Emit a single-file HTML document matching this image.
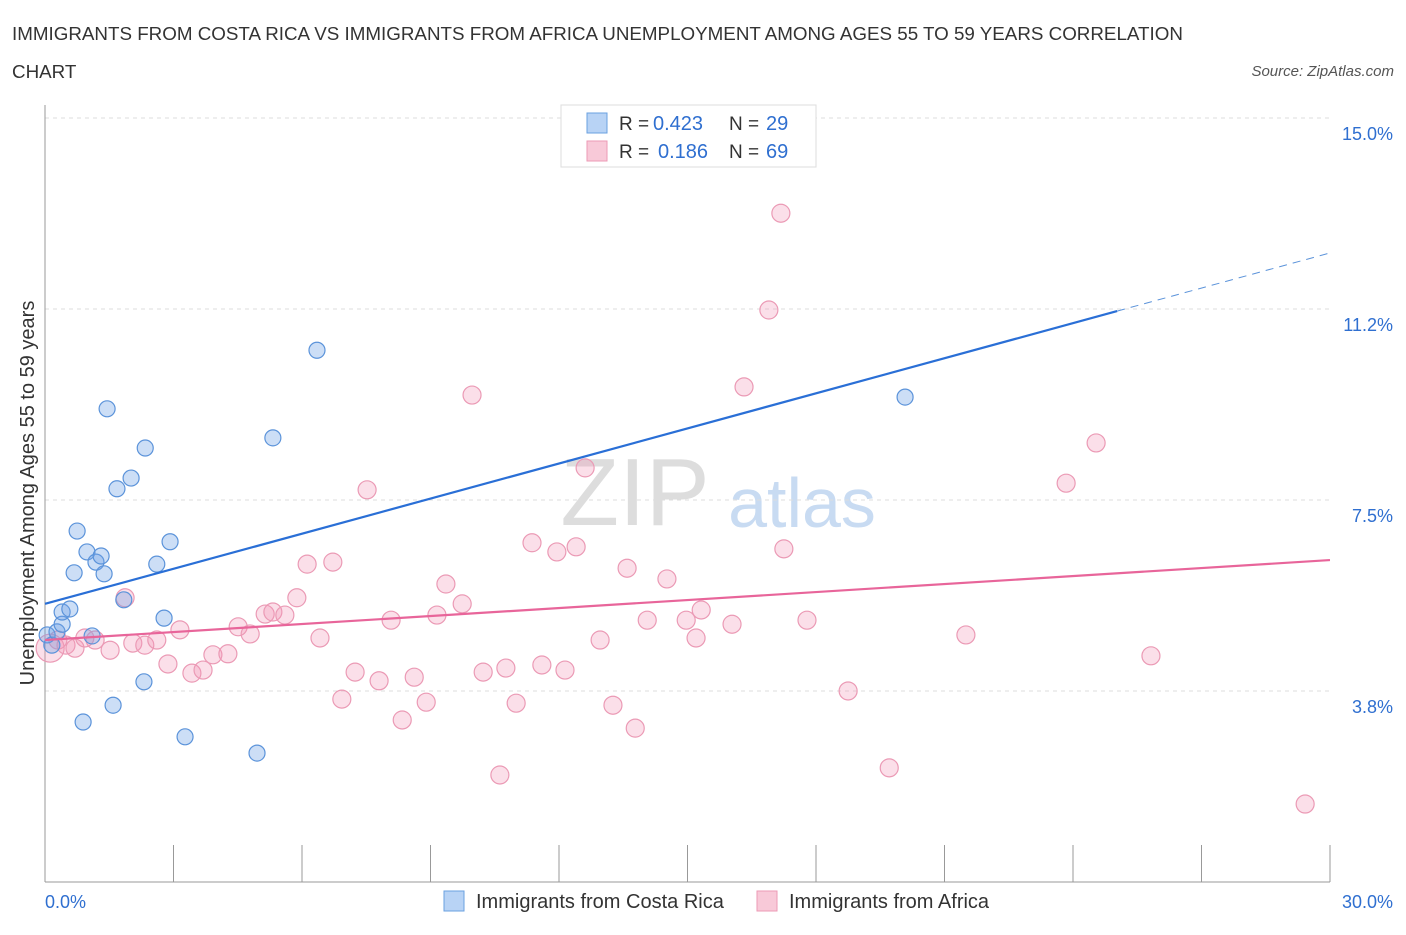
<!DOCTYPE html>
<html><head><meta charset="utf-8"><style>
body{margin:0;background:#fff;font-family:"Liberation Sans",sans-serif;}
svg text{font-family:"Liberation Sans",sans-serif;}
</style></head><body>
<svg id="chart" width="1406" height="930" xmlns="http://www.w3.org/2000/svg">
<text x="12" y="40" font-size="18.8" fill="#333">IMMIGRANTS FROM COSTA RICA VS IMMIGRANTS FROM AFRICA UNEMPLOYMENT AMONG AGES 55 TO 59 YEARS CORRELATION</text>
<text x="12" y="78" font-size="18.8" fill="#333">CHART</text>
<text x="1394" y="76" font-size="15" fill="#555" font-style="italic" text-anchor="end">Source: ZipAtlas.com</text>
<text x="635" y="525" font-size="96" fill="#ddd" font-family="Liberation Serif" text-anchor="middle">ZIP</text>
<text x="802" y="527" font-size="70" fill="#c8dbf2" text-anchor="middle">atlas</text>
<text transform="translate(34,493) rotate(-90)" font-size="20" fill="#333" text-anchor="middle">Unemployment Among Ages 55 to 59 years</text>
<g id="grid"></g><g id="pts"></g><g id="lines"></g>
<g>
<rect x="561" y="105" width="255" height="62" fill="#fff" stroke="#ddd"/>
<rect x="587" y="113" width="20" height="20" fill="#b8d3f5" stroke="#6aa0e0"/>
<rect x="587" y="141" width="20" height="20" fill="#f8c9d8" stroke="#ec9ab6"/>
<text x="619" y="130" font-size="19" fill="#333">R =</text>
<text x="653" y="130" font-size="20" fill="#2f6fd0">0.423</text>
<text x="729" y="130" font-size="19" fill="#333">N =</text>
<text x="766" y="130" font-size="20" fill="#2f6fd0">29</text>
<text x="619" y="158" font-size="19" fill="#333">R =</text>
<text x="658" y="158" font-size="20" fill="#2f6fd0">0.186</text>
<text x="729" y="158" font-size="19" fill="#333">N =</text>
<text x="766" y="158" font-size="20" fill="#2f6fd0">69</text>
</g>
<g>
<rect x="444" y="891" width="20" height="20" fill="#b8d3f5" stroke="#6aa0e0"/>
<text x="476" y="908" font-size="20" fill="#333">Immigrants from Costa Rica</text>
<rect x="757" y="891" width="20" height="20" fill="#f8c9d8" stroke="#ec9ab6"/>
<text x="789" y="908" font-size="20" fill="#333">Immigrants from Africa</text>
</g>
<text x="45" y="908" font-size="18" fill="#2f6fd0">0.0%</text>
<text x="1393" y="908" font-size="18" fill="#2f6fd0" text-anchor="end">30.0%</text>
</svg>
<script>
const yTicks=[15.0,11.25,7.5,3.75];
const yTickLabels=["15.0%","11.2%","7.5%","3.8%"];
const blueX=[0.05,0.16,0.28,0.40,0.40,0.58,0.68,0.75,0.89,0.98,1.10,1.19,1.31,1.38,1.45,1.59,1.68,1.84,2.01,2.31,2.34,2.61,2.78,2.92,3.27,4.95,5.32,6.35,20.08];
const blueY=[4.85,4.65,4.91,5.06,5.30,5.36,6.07,6.89,3.14,6.48,4.83,6.28,6.40,6.05,9.29,3.47,7.72,5.54,7.93,3.93,8.52,6.24,5.18,6.68,2.85,2.53,8.72,10.44,9.52];
const pinkX=[0.12,0.30,0.49,0.70,0.93,1.17,1.52,1.87,2.05,2.33,2.61,2.87,3.15,3.43,3.69,3.92,4.27,4.51,4.79,5.14,5.32,5.60,5.88,6.12,6.42,6.72,6.93,7.24,7.52,7.80,8.08,8.34,8.62,8.90,9.15,9.36,9.74,9.97,10.23,10.62,10.76,11.00,11.37,11.60,11.95,12.14,12.40,12.61,12.96,13.26,13.59,13.78,14.06,14.52,14.97,15.20,15.32,16.04,16.32,16.90,17.18,17.25,17.79,18.75,19.71,21.50,23.84,24.54,25.82,29.42];
const pinkY=[4.59,4.75,4.65,4.59,4.79,4.75,4.55,5.58,4.69,4.65,4.75,4.28,4.95,4.10,4.16,4.46,4.48,5.01,4.87,5.26,5.30,5.24,5.58,6.24,4.79,6.28,3.59,4.12,7.70,3.95,5.14,3.18,4.02,3.53,5.24,5.85,5.46,9.56,4.12,2.10,4.20,3.51,6.66,4.26,6.48,4.16,6.58,8.13,4.75,3.47,6.16,3.02,5.14,5.95,5.14,4.79,5.34,5.06,9.72,11.23,13.13,6.54,5.14,3.75,2.24,4.85,7.83,8.62,4.44,1.53];
const blueTrend=[5.46,12.35];
const blueSolidEnd=25.03;
const pinkTrend=[4.75,6.32];
const NS="http://www.w3.org/2000/svg";
const X=v=>45+v*42.833, Y=v=>118+(15-v)*50.93;
function mk(t,a,p){const e=document.createElementNS(NS,t);for(const k in a)e.setAttribute(k,a[k]);p.appendChild(e);return e;}
const grid=document.getElementById('grid');
yTicks.forEach((t,i)=>{
 const l=mk('line',{x1:45,x2:1330,y1:Y(t),y2:Y(t),stroke:'#ddd','stroke-dasharray':'4,4'},grid);
 
 
 const tx=mk('text',{x:1393,y:Y(t)+22,'font-size':18,fill:'#2f6fd0','text-anchor':'end'},grid);
 tx.textContent=yTickLabels[i];
 
 
});
const ax=mk('line',{x1:45,x2:45,y1:105,y2:882,stroke:'#999'},grid);


const bx=mk('line',{x1:45,x2:1330,y1:882,y2:882,stroke:'#999'},grid);


for(let i=0;i<=10;i++){const t=mk('line',{x1:X(i*3),x2:X(i*3),y1:845,y2:882,stroke:'#999'},grid);
 
 }
const pts=document.getElementById('pts');
pinkX.forEach((x,i)=>{const c=mk('circle',{cx:X(x),cy:Y(pinkY[i]),r:i==0?14:9,fill:'rgba(242,150,182,0.3)',stroke:'#eb9ab5','stroke-width':1.2},pts);
 
 });
blueX.forEach((x,i)=>{const c=mk('circle',{cx:X(x),cy:Y(blueY[i]),r:8,fill:'rgba(110,160,228,0.35)',stroke:'#5b93da','stroke-width':1.2},pts);
 
 });
const lines=document.getElementById('lines');
const bAt=v=>blueTrend[0]+(blueTrend[1]-blueTrend[0])*v/30;
const l1=mk('line',{x1:X(0),y1:Y(bAt(0)),x2:X(blueSolidEnd),y2:Y(bAt(blueSolidEnd)),stroke:'#2a6fd6','stroke-width':2.2},lines);


const l2=mk('line',{x1:X(blueSolidEnd),y1:Y(bAt(blueSolidEnd)),x2:X(30),y2:Y(bAt(30)),stroke:'#5b93da','stroke-width':1,'stroke-dasharray':'8,6'},lines);


const l3=mk('line',{x1:X(0),y1:Y(pinkTrend[0]),x2:X(30),y2:Y(pinkTrend[1]),stroke:'#e8659a','stroke-width':2.2},lines);


</script>
</body></html>
